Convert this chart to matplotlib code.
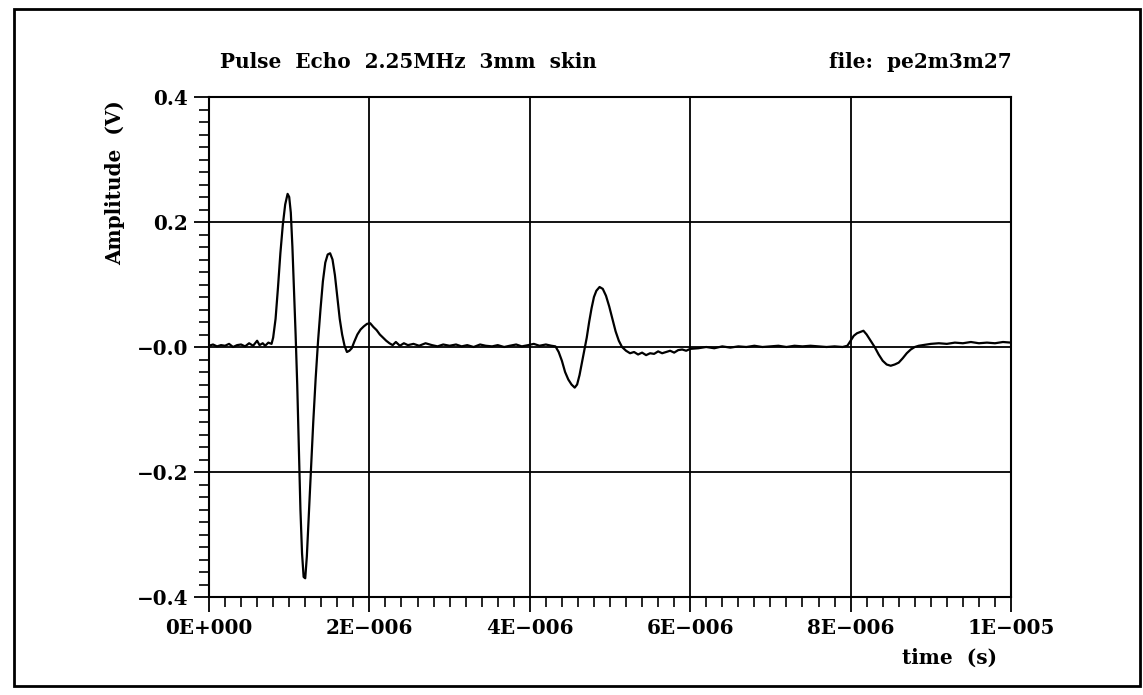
import numpy as np
import matplotlib
matplotlib.use("Agg")
import matplotlib.pyplot as plt
from matplotlib.patches import Rectangle
from matplotlib.ticker import MultipleLocator, FixedLocator

# values (time in microseconds, amplitude in volts)
t_us = [
    0.00, 0.05, 0.10, 0.15, 0.20, 0.25, 0.30, 0.35, 0.40, 0.45, 0.50, 0.55,
    0.60, 0.63, 0.67, 0.70, 0.74, 0.78, 0.80, 0.83, 0.86, 0.89, 0.92, 0.95,
    0.98, 1.00, 1.02, 1.04, 1.06, 1.08, 1.10, 1.12, 1.14, 1.16, 1.18, 1.20,
    1.22, 1.24, 1.27, 1.30, 1.33, 1.36, 1.39, 1.42, 1.45, 1.48, 1.51, 1.54,
    1.57, 1.60, 1.63, 1.66, 1.69, 1.72, 1.75, 1.78, 1.81, 1.85, 1.89, 1.93,
    1.97, 2.01, 2.05, 2.09, 2.13, 2.17, 2.21, 2.25, 2.29, 2.33, 2.38, 2.43,
    2.48, 2.55, 2.62, 2.70, 2.78, 2.85, 2.92, 3.00, 3.08, 3.15, 3.22, 3.30,
    3.38, 3.45, 3.53, 3.60, 3.68, 3.75, 3.83, 3.90, 3.98, 4.05, 4.12, 4.20,
    4.27, 4.32, 4.36, 4.40, 4.44, 4.48, 4.52, 4.56, 4.59, 4.62, 4.65, 4.68,
    4.71, 4.74, 4.77, 4.80, 4.83, 4.87, 4.91, 4.95, 4.99, 5.03, 5.07, 5.11,
    5.15, 5.20, 5.25, 5.30, 5.35, 5.40, 5.45, 5.50, 5.55, 5.60, 5.65, 5.70,
    5.75, 5.80, 5.85, 5.90, 5.95, 6.00, 6.10, 6.20, 6.30, 6.40, 6.50, 6.60,
    6.70, 6.80, 6.90, 7.00, 7.10, 7.20, 7.30, 7.40, 7.50, 7.60, 7.70, 7.80,
    7.90, 7.96, 8.00, 8.04, 8.08, 8.12, 8.16, 8.20, 8.25, 8.30, 8.35, 8.40,
    8.45, 8.50, 8.55, 8.60, 8.65, 8.70, 8.75, 8.80, 8.85, 8.90, 9.00, 9.10,
    9.20, 9.30, 9.40, 9.50, 9.60, 9.70, 9.80, 9.90, 10.00,
]
amp_v = [
    0.002, 0.004, 0.001, 0.003, 0.002, 0.005, 0.000, 0.003, 0.004, 0.001, 0.006, 0.002,
    0.010, 0.003, 0.006, 0.002, 0.007, 0.005, 0.015, 0.045, 0.095, 0.150, 0.195, 0.228,
    0.245, 0.240, 0.215, 0.160, 0.090, 0.020, -0.060, -0.160, -0.260, -0.330, -0.368, -0.370,
    -0.335, -0.280, -0.200, -0.120, -0.050, 0.010, 0.060, 0.105, 0.135, 0.148, 0.150, 0.140,
    0.115, 0.080, 0.045, 0.020, 0.002, -0.008, -0.006, -0.002, 0.008, 0.020, 0.028, 0.033,
    0.037, 0.038, 0.032, 0.027, 0.020, 0.015, 0.010, 0.006, 0.003, 0.008, 0.002, 0.006,
    0.003, 0.005, 0.002, 0.006, 0.003, 0.001, 0.004, 0.002, 0.004, 0.001, 0.003, 0.000,
    0.004, 0.002, 0.001, 0.003, 0.000, 0.002, 0.004, 0.001, 0.003, 0.005, 0.002, 0.004,
    0.002, 0.001, -0.008, -0.022, -0.040, -0.052, -0.060, -0.065, -0.060, -0.045, -0.025, -0.005,
    0.015, 0.040, 0.062, 0.080, 0.090, 0.096, 0.093, 0.082, 0.065, 0.045, 0.025, 0.010,
    0.000, -0.006, -0.010, -0.008, -0.012, -0.009, -0.013, -0.010, -0.011, -0.007, -0.010, -0.008,
    -0.006, -0.009, -0.005, -0.004, -0.006, -0.003, -0.002, 0.000, -0.002, 0.001, -0.001, 0.001,
    0.000, 0.002, 0.000, 0.001, 0.002, 0.000, 0.002, 0.001, 0.002, 0.001, 0.000, 0.001,
    0.000, 0.002, 0.010, 0.018, 0.022, 0.024, 0.026, 0.020, 0.010, 0.000, -0.012, -0.022,
    -0.028, -0.030, -0.028, -0.025, -0.018, -0.010, -0.004, 0.000, 0.002, 0.003, 0.005, 0.006,
    0.005, 0.007, 0.006, 0.008, 0.006, 0.007, 0.006, 0.008, 0.007,
]

x_ticks = [0, 2e-6, 4e-6, 6e-6, 8e-6, 1e-5]
x_labels = ["0E+000", "2E\u2212006", "4E\u2212006", "6E\u2212006", "8E\u2212006", "1E\u2212005"]
y_ticks = [-0.4, -0.2, 0.0, 0.2, 0.4]
y_labels = ["\u22120.4", "\u22120.2", "\u22120.0", "0.2", "0.4"]

plt.rcParams["font.family"] = ["DejaVu Serif"]
plt.rcParams["font.weight"] = "bold"

W, H = 1143, 695
FS = 14.4
fig = plt.figure(figsize=(W / 100, H / 100), dpi=100)
ax = fig.add_axes([209 / W, 1 - 597 / H, (1011 - 209) / W, (597 - 97) / H])

t_s = np.array(t_us) * 1e-6
ax.plot(t_s, amp_v, color="black", lw=1.6)

ax.set_xlim(0, 1e-5)
ax.set_ylim(-0.4, 0.4)
ax.xaxis.set_major_locator(FixedLocator(x_ticks))
ax.set_xticklabels(x_labels)
ax.xaxis.set_minor_locator(MultipleLocator(0.2e-6))
ax.yaxis.set_major_locator(FixedLocator(y_ticks))
ax.set_yticklabels(y_labels)
ax.yaxis.set_minor_locator(MultipleLocator(0.02))

ax.tick_params(which="major", direction="out", length=11, width=1.3, labelsize=FS, pad=4)
ax.tick_params(which="minor", direction="out", length=7, width=1.2)
for lab in ax.get_xticklabels() + ax.get_yticklabels():
    lab.set_fontweight("bold")

ax.grid(True, which="major", color="black", lw=1.3)
for s in ax.spines.values():
    s.set_linewidth(1.5)

fig.text(220 / W, 1 - 62 / H, "Pulse  Echo  2.25MHz  3mm  skin", fontsize=FS,
         fontweight="bold", ha="left", va="center")
fig.text(1012 / W, 1 - 62 / H, "file:  pe2m3m27", fontsize=FS,
         fontweight="bold", ha="right", va="center")
fig.text(115 / W, 1 - 183 / H, "Amplitude  (V)", fontsize=FS, fontweight="bold",
         rotation=90, ha="center", va="center")
fig.text(950 / W, 1 - 658 / H, "time  (s)", fontsize=FS, fontweight="bold",
         ha="center", va="center")

# page border
fig.patches.append(Rectangle((14 / W, 1 - 686 / H), (1140 - 14) / W, (686 - 9) / H,
                             transform=fig.transFigure, fill=False, lw=2, color="black"))

fig.savefig("out.png", dpi=100)
